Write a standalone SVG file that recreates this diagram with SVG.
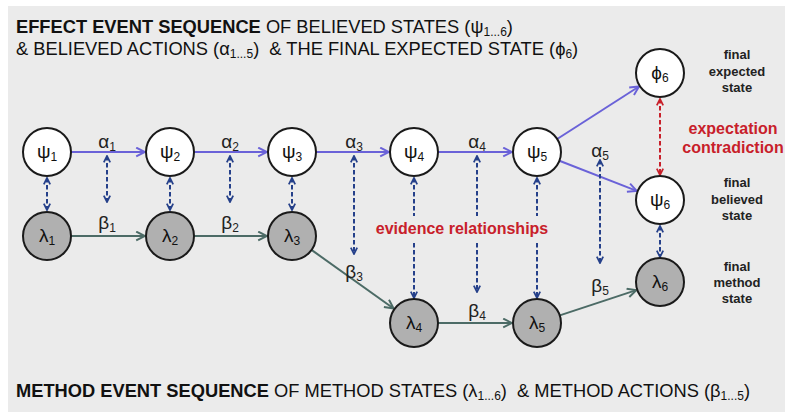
<svg xmlns="http://www.w3.org/2000/svg" width="785" height="412" viewBox="0 0 785 412">
<defs>
<style>
.t{font-family:"Liberation Sans",Arial,sans-serif;fill:#111;}
.title{font-size:18.3px;}
.b{font-weight:bold;}
.sub{font-size:12px;}
.node{stroke:#1a1a1a;stroke-width:2;}
.psi{fill:#ffffff;}
.lam{fill:#b0b0b0;}
.nl{font-size:19px;text-anchor:middle;}
.ns{font-size:12px;}
.lab{font-size:19px;text-anchor:middle;fill:#222;}
.ls{font-size:12px;}
.fin{font-size:13px;font-weight:bold;text-anchor:middle;fill:#222;}
.red{fill:#c8202a;font-weight:bold;font-size:16px;text-anchor:middle;}
.blue{stroke:#6a62d8;stroke-width:2;fill:none;}
.green{stroke:#4c6b66;stroke-width:2;fill:none;}
.dash{stroke:#25408a;stroke-width:2;stroke-dasharray:4.5 2.5;fill:none;}
.rdash{stroke:#c8202a;stroke-width:2;stroke-dasharray:4.5 2.5;fill:none;}
</style>
<marker id="ab" viewBox="0 0 10 10" refX="9" refY="5" markerUnits="userSpaceOnUse" markerWidth="11" markerHeight="11" orient="auto">
<path d="M1,1 L9,5 L1,9" fill="none" stroke="#6a62d8" stroke-width="1.8"/>
</marker>
<marker id="ag" viewBox="0 0 10 10" refX="9" refY="5" markerUnits="userSpaceOnUse" markerWidth="11" markerHeight="11" orient="auto">
<path d="M1,1 L9,5 L1,9" fill="none" stroke="#4c6b66" stroke-width="1.8"/>
</marker>
<marker id="ad" viewBox="0 0 10 10" refX="9" refY="5" markerUnits="userSpaceOnUse" markerWidth="8" markerHeight="8" orient="auto-start-reverse">
<path d="M1,1 L9,5 L1,9" fill="none" stroke="#25408a" stroke-width="2.2" stroke-dasharray="none"/>
</marker>
<marker id="ar" viewBox="0 0 10 10" refX="9" refY="5" markerUnits="userSpaceOnUse" markerWidth="8" markerHeight="8" orient="auto-start-reverse">
<path d="M1,1 L9,5 L1,9" fill="none" stroke="#c8202a" stroke-width="2.2" stroke-dasharray="none"/>
</marker>
</defs>
<rect x="0" y="0" width="785" height="412" fill="#ffffff"/>
<rect x="8" y="6" width="777" height="406" fill="#ebebeb"/>

<g id="titles">
<text class="t title" x="16" y="33"><tspan class="b">EFFECT EVENT SEQUENCE</tspan> OF BELIEVED STATES (ψ<tspan class="sub" dy="3">1...6</tspan><tspan dy="-3">)</tspan></text>
<text class="t title" x="16" y="55">&amp; BELIEVED ACTIONS (α<tspan class="sub" dy="3">1...5</tspan><tspan dy="-3">)&#160; &amp; THE FINAL EXPECTED STATE (ϕ</tspan><tspan class="sub" dy="3">6</tspan><tspan dy="-3">)</tspan></text>
<text class="t title" x="16" y="397"><tspan class="b">METHOD EVENT SEQUENCE</tspan> OF METHOD STATES (λ<tspan class="sub" dy="3">1...6</tspan><tspan dy="-3">)&#160; &amp; METHOD ACTIONS (β</tspan><tspan class="sub" dy="3">1...5</tspan><tspan dy="-3">)</tspan></text>
</g>

<g id="connectors">
<path class="blue" d="M71,152 L145,152" marker-end="url(#ab)"/>
<path class="blue" d="M194,152 L267,152" marker-end="url(#ab)"/>
<path class="blue" d="M316,152 L389,152" marker-end="url(#ab)"/>
<path class="blue" d="M438,152 L512,152" marker-end="url(#ab)"/>
<path class="blue" d="M557.2,139 L639,86.5" marker-end="url(#ab)"/>
<path class="blue" d="M559.4,160.7 L636.7,190.9" marker-end="url(#ab)"/>
<path class="green" d="M71,236 L145,236" marker-end="url(#ag)"/>
<path class="green" d="M194,236 L267,236" marker-end="url(#ag)"/>
<path class="green" d="M311.5,249.9 L393.6,308.5" marker-end="url(#ag)"/>
<path class="green" d="M438,323 L512,323" marker-end="url(#ag)"/>
<path class="green" d="M559.8,315.4 L636.3,290.1" marker-end="url(#ag)"/>

<path class="dash" d="M47,178 L47,210" marker-start="url(#ad)" marker-end="url(#ad)"/>
<path class="dash" d="M170,178 L170,210" marker-start="url(#ad)" marker-end="url(#ad)"/>
<path class="dash" d="M292,178 L292,210" marker-start="url(#ad)" marker-end="url(#ad)"/>
<path class="dash" d="M107,156 L107,202" marker-start="url(#ad)" marker-end="url(#ad)"/>
<path class="dash" d="M230,156 L230,202" marker-start="url(#ad)" marker-end="url(#ad)"/>
<path class="dash" d="M354,156 L354,254" marker-start="url(#ad)" marker-end="url(#ad)"/>
<path class="dash" d="M414,178 L414,216" marker-start="url(#ad)"/>
<path class="dash" d="M414,243 L414,298" marker-end="url(#ad)"/>
<path class="dash" d="M477,156 L477,216" marker-start="url(#ad)"/>
<path class="dash" d="M477,243 L477,292" marker-end="url(#ad)"/>
<path class="dash" d="M537,178 L537,216" marker-start="url(#ad)"/>
<path class="dash" d="M537,243 L537,298" marker-end="url(#ad)"/>
<path class="dash" d="M600,160 L600,263" marker-start="url(#ad)" marker-end="url(#ad)"/>
<path class="rdash" d="M660,99 L660,175" marker-start="url(#ar)" marker-end="url(#ar)"/>
<path class="dash" d="M660,226 L660,257" marker-start="url(#ad)" marker-end="url(#ad)"/>

<text class="t lab" x="107" y="148">α<tspan class="ls" dy="3">1</tspan></text>
<text class="t lab" x="230" y="148">α<tspan class="ls" dy="3">2</tspan></text>
<text class="t lab" x="354" y="148">α<tspan class="ls" dy="3">3</tspan></text>
<text class="t lab" x="477" y="148">α<tspan class="ls" dy="3">4</tspan></text>
<text class="t lab" x="600" y="157">α<tspan class="ls" dy="3">5</tspan></text>
<text class="t lab" x="107" y="229">β<tspan class="ls" dy="3">1</tspan></text>
<text class="t lab" x="230" y="229">β<tspan class="ls" dy="3">2</tspan></text>
<text class="t lab" x="354" y="278">β<tspan class="ls" dy="3">3</tspan></text>
<text class="t lab" x="477" y="317">β<tspan class="ls" dy="3">4</tspan></text>
<text class="t lab" x="600" y="292">β<tspan class="ls" dy="3">5</tspan></text>
<text class="t red" x="462" y="234">evidence relationships</text>
<text class="t red" x="733" y="134">expectation</text>
<text class="t red" x="733" y="153">contradiction</text>
</g>

<g id="psi1"><circle class="node psi" cx="47" cy="152" r="24"/><text class="t nl" x="47" y="158">ψ<tspan class="ns" dy="3">1</tspan></text></g>
<g id="psi2"><circle class="node psi" cx="170" cy="152" r="24"/><text class="t nl" x="170" y="158">ψ<tspan class="ns" dy="3">2</tspan></text></g>
<g id="psi3"><circle class="node psi" cx="292" cy="152" r="24"/><text class="t nl" x="292" y="158">ψ<tspan class="ns" dy="3">3</tspan></text></g>
<g id="psi4"><circle class="node psi" cx="414" cy="152" r="24"/><text class="t nl" x="414" y="158">ψ<tspan class="ns" dy="3">4</tspan></text></g>
<g id="psi5"><circle class="node psi" cx="537" cy="152" r="24"/><text class="t nl" x="537" y="158">ψ<tspan class="ns" dy="3">5</tspan></text></g>
<g id="phi6"><circle class="node psi" cx="660" cy="73" r="24"/><text class="t nl" x="660" y="79">ϕ<tspan class="ns" dy="3">6</tspan></text></g>
<g id="psi6"><circle class="node psi" cx="660" cy="200" r="24"/><text class="t nl" x="660" y="206">ψ<tspan class="ns" dy="3">6</tspan></text></g>
<g id="lambda1"><circle class="node lam" cx="47" cy="236" r="24"/><text class="t nl" x="47" y="242">λ<tspan class="ns" dy="3">1</tspan></text></g>
<g id="lambda2"><circle class="node lam" cx="170" cy="236" r="24"/><text class="t nl" x="170" y="242">λ<tspan class="ns" dy="3">2</tspan></text></g>
<g id="lambda3"><circle class="node lam" cx="292" cy="236" r="24"/><text class="t nl" x="292" y="242">λ<tspan class="ns" dy="3">3</tspan></text></g>
<g id="lambda4"><circle class="node lam" cx="414" cy="323" r="24"/><text class="t nl" x="414" y="329">λ<tspan class="ns" dy="3">4</tspan></text></g>
<g id="lambda5"><circle class="node lam" cx="537" cy="323" r="24"/><text class="t nl" x="537" y="329">λ<tspan class="ns" dy="3">5</tspan></text></g>
<g id="lambda6"><circle class="node lam" cx="660" cy="282" r="24"/><text class="t nl" x="660" y="288">λ<tspan class="ns" dy="3">6</tspan></text></g>

<g id="final-labels">
<text class="t fin" x="737" y="59">final</text>
<text class="t fin" x="737" y="76">expected</text>
<text class="t fin" x="737" y="92">state</text>
<text class="t fin" x="737" y="187">final</text>
<text class="t fin" x="737" y="204">believed</text>
<text class="t fin" x="737" y="220">state</text>
<text class="t fin" x="737" y="271">final</text>
<text class="t fin" x="737" y="287">method</text>
<text class="t fin" x="737" y="303">state</text>
</g>
</svg>
